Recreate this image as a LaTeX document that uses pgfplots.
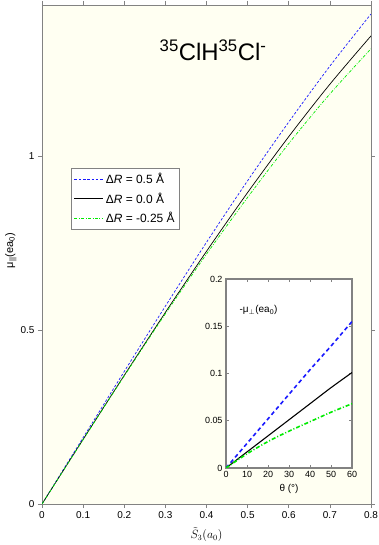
\documentclass[border=0pt]{standalone}
\usepackage{fontspec}
\setmainfont{Liberation Sans}
\usepackage{pgfplots}
\pgfplotsset{compat=1.18}
\definecolor{cream}{RGB}{255,255,242}
\definecolor{axgray}{RGB}{130,130,130}
\definecolor{mblue}{RGB}{25,25,255}
\definecolor{mgreen}{RGB}{0,235,0}
\begin{document}
\begin{tikzpicture}
\path[use as bounding box] (-42bp,-41bp) rectangle (337bp,504bp);
\begin{axis}[
  at={(0bp,0bp)}, anchor=south west,
  width=329bp, height=499bp, scale only axis,
  xmin=0, xmax=0.8, ymin=0, ymax=1.434,
  xtick={0,0.1,0.2,0.3,0.4,0.5,0.6,0.7,0.8},
  ytick={0,0.5,1},
  tick align=outside,
  major tick length=4bp,
  axis line style={axgray, line width=0.8pt},
  every tick/.style={axgray, line width=0.6pt},
  axis background/.style={fill=cream},
  tick label style={font=\fontsize{10}{12}\selectfont},
  /pgf/number format/assume math mode=true,
  xlabel={$\tilde{S}_3(a_0)$},
  xlabel style={at={(axis description cs:0.5,0)}, anchor=center, yshift=-31bp, inner sep=0pt, font=\fontsize{11.5}{13}\selectfont},
  ylabel={μ\textsubscript{||}(ea\textsubscript{0})},
  ylabel style={at={(axis description cs:-0.095,0.508)}, anchor=center, font=\fontsize{11}{13}\selectfont},
  legend style={at={(0.088,0.673)}, anchor=north west, draw=axgray, fill=white,
    font=\fontsize{12}{14}\selectfont, row sep=3.5bp, inner sep=3bp},
  legend cell align=left,
  legend image code/.code={\draw[#1] (0bp,0bp) -- (29bp,0bp);},
]
\addplot[mblue, line width=0.7pt, dash pattern=on 2.5bp off 1.8bp, smooth] coordinates {
(0,0) (0.1,0.1907) (0.2,0.3808) (0.3,0.5685) (0.4,0.7521) (0.5,0.9291) (0.6,1.0977) (0.7,1.2583) (0.8,1.4082)};
\addlegendentry{Δ\textit{R} = 0.5 Å}
\addplot[black, line width=0.7pt, smooth] coordinates {
(0,0) (0.1,0.1857) (0.2,0.3698) (0.3,0.5505) (0.4,0.7261) (0.5,0.8951) (0.6,1.0557) (0.7,1.2063) (0.8,1.3452)};
\addlegendentry{Δ\textit{R} = 0.0 Å}
\addplot[mgreen, line width=0.7pt, dash pattern=on 3bp off 1.5bp on 0.8bp off 1.5bp, smooth] coordinates {
(0,0) (0.1,0.1847) (0.2,0.3678) (0.3,0.5465) (0.4,0.7181) (0.5,0.8811) (0.6,1.0357) (0.7,1.1783) (0.8,1.3082)};
\addlegendentry{Δ\textit{R} = -0.25 Å}
\node[font=\fontsize{24}{28}\selectfont] at (axis cs:0.416,1.305) {\textsuperscript{35}ClH\textsuperscript{35}Cl\textsuperscript{-}};
\end{axis}
\begin{axis}[
  at={(184bp,36bp)}, anchor=south west,
  width=126bp, height=189bp, scale only axis,
  xmin=0, xmax=60, ymin=0, ymax=0.2,
  xtick={0,10,20,30,40,50,60},
  ytick={0,0.05,0.1,0.15,0.2},
  yticklabels={0,0.05,0.1,0.15,0.2},
  tick align=inside,
  major tick length=3bp,
  axis line style={axgray, line width=1.2pt},
  every tick/.style={axgray, line width=0.6pt},
  axis background/.style={fill=white},
  tick label style={font=\fontsize{9}{11}\selectfont},
  /pgf/number format/assume math mode=true,
  xlabel={θ (°)},
  xlabel style={at={(axis description cs:0.5,0)}, anchor=center, yshift=-21bp, font=\fontsize{10}{12}\selectfont},
]
\addplot[mblue, line width=1.6pt, dash pattern=on 4bp off 3bp] coordinates {
(0,0) (10,0.026) (20,0.052) (30,0.078) (40,0.104) (50,0.129) (60,0.155)};
\addplot[black, line width=1.1pt, smooth] coordinates {
(0,0) (10,0.017) (20,0.034) (30,0.051) (40,0.068) (50,0.085) (60,0.101)};
\addplot[mgreen, line width=1.6pt, dash pattern=on 4bp off 2bp on 1bp off 2bp, smooth] coordinates {
(0,0) (10,0.015) (20,0.028) (30,0.039) (40,0.049) (50,0.059) (60,0.068)};
\node[anchor=west, font=\fontsize{10}{12}\selectfont] at (axis description cs:0.08,0.836) {-μ$_{\perp}$(ea\textsubscript{0})};
\end{axis}
\end{tikzpicture}
\end{document}
